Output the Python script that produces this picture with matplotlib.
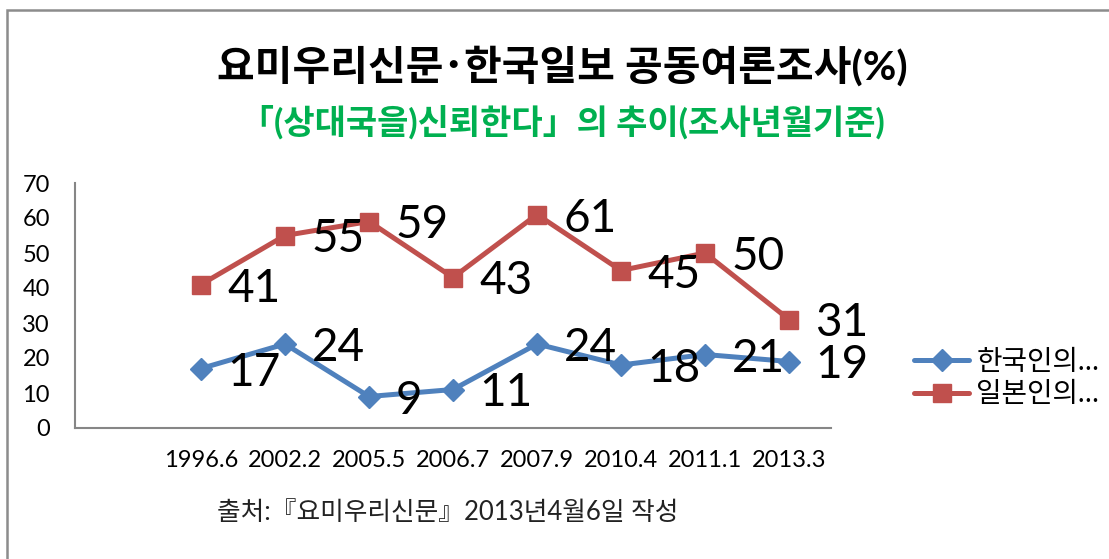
#!/usr/bin/env python3

from matplotlib import pyplot as plt
from matplotlib.patches import Rectangle

SURVEYS = ["1996.6", "2002.2", "2005.5", "2006.7", "2007.9", "2010.4", "2011.1", "2013.3"]
KOREA = [17, 24, 9, 11, 24, 18, 21, 19]
JAPAN = [41, 55, 59, 43, 61, 45, 50, 31]
SERIES_NAMES = ["한국인의…", "일본인의…"]
Y_TICKS = [0, 10, 20, 30, 40, 50, 60, 70]

TITLE = "요미우리신문･한국일보 공동여론조사(%)"
SUBTITLE = "「(상대국을)신뢰한다」의 추이(조사년월기준)"
SOURCE = "출처:『요미우리신문』2013년4월6일 작성"

FONTS = ["Lato", "Noto Sans CJK KR", "DejaVu Sans"]
BLUE = "#4F81BD"
RED = "#C0504D"
AXIS_GRAY = "#868686"


def main():
    plt.rcParams["font.family"] = FONTS

    fig = plt.figure(figsize=(11.09, 5.59), dpi=100)
    ax = fig.add_axes((75 / 1109, 1 - 428 / 559, (831 - 75) / 1109, (428 - 183) / 559))

    (kor,) = ax.plot(SURVEYS, KOREA, color=BLUE, lw=3.6, marker="D", ms=11.5,
                     solid_capstyle="round", label=SERIES_NAMES[0])
    (jap,) = ax.plot(SURVEYS, JAPAN, color=RED, lw=3.6, marker="s", ms=13,
                     solid_capstyle="round", label=SERIES_NAMES[1])

    for values in (KOREA, JAPAN):
        for cat, v in zip(SURVEYS, values):
            ax.annotate(str(v), (cat, v), xytext=(19, 0), textcoords="offset points",
                        ha="left", va="center_baseline", fontsize=33, color="black")

    ax.set_xlim(-1.5, 7.5)
    ax.set_ylim(0, 70)
    ax.set_yticks(Y_TICKS)
    ax.tick_params(axis="both", length=0, labelsize=17)
    ax.tick_params(axis="y", pad=18)
    ax.tick_params(axis="x", pad=16)
    for side in ("top", "right"):
        ax.spines[side].set_visible(False)
    for side in ("left", "bottom"):
        ax.spines[side].set_color(AXIS_GRAY)
        ax.spines[side].set_linewidth(1.5)

    ax.legend(handles=[kor, jap], loc="center left", bbox_to_anchor=(900 / 1109, 1 - 378 / 559),
              bbox_transform=fig.transFigure, frameon=False, fontsize=20,
              handlelength=2.0, handletextpad=0.25, labelspacing=0.25, borderpad=0)

    fig.text(562 / 1109, 1 - 66 / 559, TITLE, ha="center", va="center",
             fontsize=29.5, fontweight="bold", color="black")
    fig.text(562 / 1109, 1 - 122 / 559, SUBTITLE, ha="center", va="center",
             fontsize=24.5, fontweight="bold", color="#00B050")
    fig.text(217 / 1109, 1 - 513 / 559, SOURCE, ha="left", va="center",
             fontsize=18.5, color="#222222")

    fig.patches.append(Rectangle((7 / 1109, -0.1), 1.2, 1 - 10 / 559 + 0.1,
                                 transform=fig.transFigure, fill=False,
                                 edgecolor="#8C8C8C", lw=1.8))

    fig.savefig("out.png", dpi=100, facecolor="white")


if __name__ == "__main__":
    main()
